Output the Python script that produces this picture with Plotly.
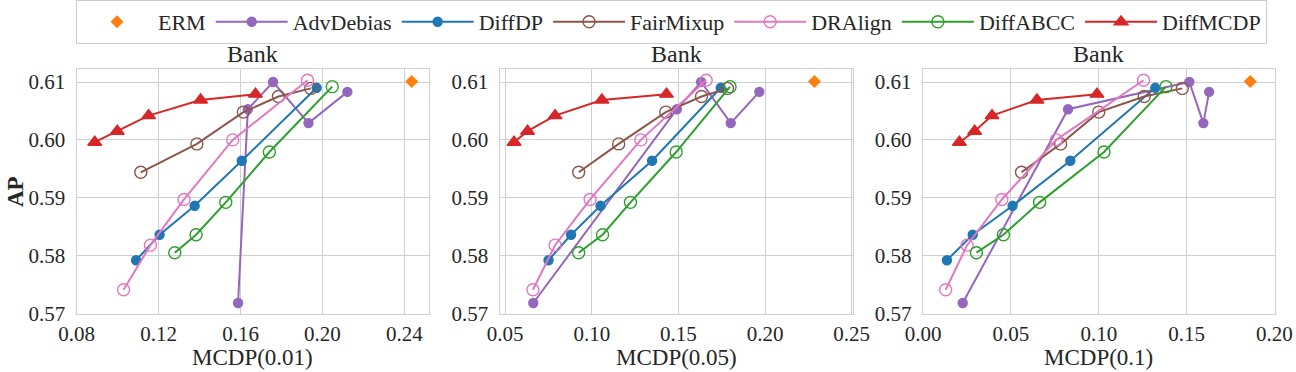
import plotly.graph_objects as go

# Valores (AP compartido entre paneles)
metodos = ["AdvDebias", "DiffDP", "FairMixup", "DRAlign", "DiffABCC", "DiffMCDP"]

ap_erm = 0.6101
ap_advdebias = [0.5718, 0.6053, 0.6100, 0.6029, 0.6083]
ap_diffdp = [0.5792, 0.5836, 0.5886, 0.5964, 0.6090]
ap_fairmixup = [0.5944, 0.5993, 0.6048, 0.6075, 0.6089]
ap_dralign = [0.5741, 0.5818, 0.5897, 0.6000, 0.6103]
ap_diffabcc = [0.5805, 0.5836, 0.5892, 0.5979, 0.6092]
ap_diffmcdp = [0.5996, 0.6015, 0.6042, 0.6069, 0.6079]

# MCDP(0.01)
mcdp001_erm = 0.2436
mcdp001_advdebias = [0.1588, 0.1636, 0.1759, 0.1932, 0.2122]
mcdp001_diffdp = [0.1090, 0.1205, 0.1376, 0.1606, 0.1972]
mcdp001_fairmixup = [0.1113, 0.1387, 0.1614, 0.1785, 0.1943]
mcdp001_dralign = [0.1029, 0.1160, 0.1324, 0.1562, 0.1927]
mcdp001_diffabcc = [0.1279, 0.1383, 0.1528, 0.1741, 0.2048]
mcdp001_diffmcdp = [0.0888, 0.0998, 0.1151, 0.1405, 0.1673]

# MCDP(0.05)
mcdp005_erm = 0.2285
mcdp005_advdebias = [0.0662, 0.1491, 0.1631, 0.1802, 0.1967]
mcdp005_diffdp = [0.0750, 0.0880, 0.1050, 0.1348, 0.1744]
mcdp005_fairmixup = [0.0924, 0.1155, 0.1427, 0.1633, 0.1783]
mcdp005_dralign = [0.0660, 0.0788, 0.0990, 0.1283, 0.1660]
mcdp005_diffabcc = [0.0924, 0.1062, 0.1223, 0.1487, 0.1798]
mcdp005_diffmcdp = [0.0551, 0.0629, 0.0788, 0.1058, 0.1431]

# MCDP(0.1)
mcdp01_erm = 0.1863
mcdp01_advdebias = [0.0225, 0.0825, 0.1516, 0.1596, 0.1629]
mcdp01_diffdp = [0.0135, 0.0282, 0.0509, 0.0838, 0.1322]
mcdp01_fairmixup = [0.0560, 0.0783, 0.1000, 0.1259, 0.1476]
mcdp01_dralign = [0.0128, 0.0250, 0.0448, 0.0758, 0.1255]
mcdp01_diffabcc = [0.0303, 0.0457, 0.0663, 0.1030, 0.1383]
mcdp01_diffmcdp = [0.0206, 0.0293, 0.0392, 0.0648, 0.0990]

ticks_001 = [0.08, 0.12, 0.16, 0.20, 0.24]
ticks_005 = [0.05, 0.10, 0.15, 0.20, 0.25]
ticks_01 = [0.00, 0.05, 0.10, 0.15, 0.20]
ticks_ap = [0.57, 0.58, 0.59, 0.60, 0.61]

ap = [ap_advdebias, ap_diffdp, ap_fairmixup, ap_dralign, ap_diffabcc, ap_diffmcdp]
paneles = [
    ("MCDP(0.01)", mcdp001_erm,
     [mcdp001_advdebias, mcdp001_diffdp, mcdp001_fairmixup, mcdp001_dralign, mcdp001_diffabcc, mcdp001_diffmcdp],
     ticks_001, [0.0799, 0.2522]),
    ("MCDP(0.05)", mcdp005_erm,
     [mcdp005_advdebias, mcdp005_diffdp, mcdp005_fairmixup, mcdp005_dralign, mcdp005_diffabcc, mcdp005_diffmcdp],
     ticks_005, [0.0467, 0.2506]),
    ("MCDP(0.1)", mcdp01_erm,
     [mcdp01_advdebias, mcdp01_diffdp, mcdp01_fairmixup, mcdp01_dralign, mcdp01_diffabcc, mcdp01_diffmcdp],
     ticks_01, [-0.0003, 0.2003]),
]

# Estilo de cada método: color, símbolo, tamaño
estilos = {
    "AdvDebias": ("#9467bd", "circle", 9),
    "DiffDP": ("#1f77b4", "circle", 9),
    "FairMixup": ("#8c564b", "circle-open", 12),
    "DRAlign": ("#e377c2", "circle-open", 12),
    "DiffABCC": ("#2ca02c", "circle-open", 12),
    "DiffMCDP": ("#d62728", "triangle-up", 12),
}

W, H = 1296, 372
FUENTE = "Liberation Serif"
GRIS = "#d0d0d0"
TEXTO = "#262626"

dominios_x = [(76.5, 429.3), (499.5, 852.7), (922.7, 1274.8)]
y_top, y_bot = 69.3, 314.0


def px_x(v):
    return v / W


def px_y(v):
    return 1 - v / H


fig = go.Figure()

for i, (titulo_x, erm_x, xs, ticks, rango) in enumerate(paneles):
    sufijo = "" if i == 0 else str(i + 1)
    xa, ya = "x" + sufijo, "y" + sufijo

    fig.add_trace(
        go.Scatter(
            x=[erm_x], y=[ap_erm], mode="markers", name="ERM",
            marker=dict(color="#ff7f0e", symbol="diamond", size=10),
            legendgroup="ERM", showlegend=(i == 0), xaxis=xa, yaxis=ya,
        )
    )
    for nombre, x_vals, y_vals in zip(metodos, xs, ap):
        color, simbolo, tam = estilos[nombre]
        fig.add_trace(
            go.Scatter(
                x=x_vals, y=y_vals, mode="lines+markers", name=nombre,
                line=dict(color=color, width=2),
                marker=dict(color=color, symbol=simbolo, size=tam,
                            line=dict(color=color, width=1.4)),
                legendgroup=nombre, showlegend=(i == 0), xaxis=xa, yaxis=ya,
            )
        )

    x0, x1 = dominios_x[i]
    eje_comun = dict(
        showgrid=True, gridcolor=GRIS, gridwidth=1,
        showline=True, linecolor=GRIS, linewidth=1, mirror=True,
        zeroline=False, ticks="outside", tickcolor="rgba(0,0,0,0)",
        tickfont=dict(family=FUENTE, size=21, color=TEXTO),
        tickformat=".2f",
    )
    fig.update_layout({
        "xaxis" + sufijo: dict(
            domain=[px_x(x0), px_x(x1)], range=rango, tickvals=ticks,
            anchor=ya, ticklen=1, **eje_comun,
        ),
        "yaxis" + sufijo: dict(
            domain=[px_y(y_bot), px_y(y_top)], range=[0.5699, 0.6122],
            tickvals=ticks_ap, anchor=xa, ticklen=6, **eje_comun,
        ),
    })

    centro = px_x((x0 + x1) / 2)
    fig.add_annotation(
        x=centro, y=px_y(54), xref="paper", yref="paper", text="Bank",
        showarrow=False, xanchor="center", yanchor="middle",
        font=dict(family=FUENTE, size=24, color=TEXTO),
    )
    fig.add_annotation(
        x=centro, y=px_y(357), xref="paper", yref="paper", text=titulo_x,
        showarrow=False, xanchor="center", yanchor="middle",
        font=dict(family=FUENTE, size=23, color=TEXTO),
    )

fig.add_annotation(
    x=px_x(15), y=px_y(192), xref="paper", yref="paper", text="<b>AP</b>",
    showarrow=False, xanchor="center", yanchor="middle", textangle=-90,
    font=dict(family=FUENTE, size=23, color=TEXTO),
)

fig.update_layout(
    width=W,
    height=H,
    margin=dict(l=0, r=0, t=0, b=0, autoexpand=False),
    paper_bgcolor="#ffffff",
    plot_bgcolor="#ffffff",
    showlegend=True,
    legend=dict(
        orientation="h",
        x=px_x(76),
        y=1.0,
        xanchor="left",
        yanchor="top",
        bordercolor="#cccccc",
        borderwidth=1,
        bgcolor="#ffffff",
        itemwidth=72,
        font=dict(family=FUENTE, size=22, color=TEXTO),
    ),
)

# Sin margen en el body para que la figura quede en la esquina
fig.write_html(
    "out.html",
    config={"displayModeBar": False},
    post_script="document.body.style.margin='0';",
)
